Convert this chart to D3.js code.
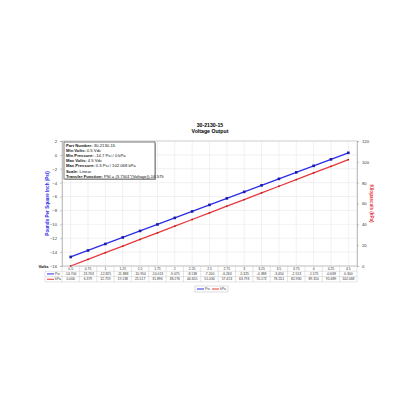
<!DOCTYPE html>
<html>
<head>
<meta charset="utf-8">
<script src="https://cdn.jsdelivr.net/npm/d3@7"></script>
<style>
  body { margin: 0; background: #fff; }
  text { font-family: "Liberation Sans", Arial, sans-serif; }
</style>
</head>
<body>
<svg id="main"></svg>
<script>
// voltage steps (x categories)
let volts = ["0.5", "0.75", "1", "1.25", "1.5", "1.75", "2", "2.25", "2.5", "2.75", "3", "3.25", "3.5", "3.75", "4", "4.25", "4.5"];
// pressure in psi
let psi = [-14.700, -13.763, -12.825, -11.888, -10.950, -10.013, -9.075, -8.138, -7.200, -6.263, -5.325, -4.388, -3.450, -2.513, -1.575, -0.638, 0.300];
// pressure in kPa
let kpa = [0.000, 6.379, 12.759, 19.138, 25.517, 31.896, 38.276, 44.655, 51.034, 57.413, 63.793, 70.172, 76.551, 82.930, 89.310, 95.689, 102.068];
let psiTicks = [2, 0, -2, -4, -6, -8, -10, -12, -14, -16];
let kpaTicks = [0, 20, 40, 60, 80, 100, 120];
let infoLines = [
	["Part Number:", " 30-2130-15"],
	["Min Volts:", " 0.5 Vdc"],
	["Min Pressure:", " -14.7 Psi / 0 kPa"],
	["Max Volts:", " 4.5 Vdc"],
	["Max Pressure:", " 0.3 Psi / 102.068 kPa"],
	["Scale:", " Linear"],
	["Transfer Function:", " PSI = (3.7501*(Voltage))-16.575"]
];

const blue = "#2b2bea", red = "#e8383d";
const pLeft = 62, pRight = 357, pTop = 141, pBottom = 266;

var svg = d3.select("#main").attr("width", 416).attr("height", 416);

// title
svg.append("text").attr("x", 210).attr("y", 127).attr("text-anchor", "middle")
	.attr("font-size", 5.2).attr("font-weight", "bold").text("30-2130-15");
svg.append("text").attr("x", 210).attr("y", 133).attr("text-anchor", "middle")
	.attr("font-size", 5.2).attr("font-weight", "bold").text("Voltage Output");

var x = d3.scaleBand().domain(volts).range([pLeft, pRight]);
var yP = d3.scaleLinear().domain([-16, 2]).range([pBottom, pTop]);
var yK = d3.scaleLinear().domain([0, 120]).range([pBottom, pTop]);

// gridlines
var grid = svg.append("g").attr("stroke", "#e2e2e2").attr("stroke-width", 0.5);
psiTicks.forEach(t => grid.append("line").attr("x1", pLeft).attr("x2", pRight)
	.attr("y1", yP(t)).attr("y2", yP(t)));
volts.forEach(v => grid.append("line").attr("x1", x(v) + x.bandwidth() / 2).attr("x2", x(v) + x.bandwidth() / 2)
	.attr("y1", pTop).attr("y2", pBottom));
svg.append("rect").attr("x", pLeft).attr("y", pTop).attr("width", pRight - pLeft).attr("height", pBottom - pTop)
	.attr("fill", "none").attr("stroke", "#b0b0b0").attr("stroke-width", 0.5);

// axes
var axL = svg.append("g").attr("transform", "translate(" + pLeft + ",0)")
	.call(d3.axisLeft(yP).tickValues(psiTicks).tickSize(2).tickPadding(3));
var axR = svg.append("g").attr("transform", "translate(" + pRight + ",0)")
	.call(d3.axisRight(yK).tickValues(kpaTicks).tickSize(2).tickPadding(3));
[axL, axR].forEach(a => {
	a.selectAll("text").attr("font-size", 4.2).attr("fill", "#333");
	a.selectAll("line").attr("stroke", "#999").attr("stroke-width", 0.5);
	a.select(".domain").attr("stroke", "#999").attr("stroke-width", 0.5);
});

// axis titles
svg.append("text").attr("transform", "translate(49," + (pTop + pBottom) / 2 + ") rotate(-90)")
	.attr("text-anchor", "middle").attr("font-size", 4.6).attr("font-weight", "bold")
	.attr("fill", blue).text("Pounds Per Square Inch (Psi)");
svg.append("text").attr("transform", "translate(370," + (pTop + pBottom) / 2 + ") rotate(90)")
	.attr("text-anchor", "middle").attr("font-size", 4.6).attr("font-weight", "bold")
	.attr("fill", red).text("Kilopascals (kPa)");

// lines
var cx = v => x(v) + x.bandwidth() / 2;
var lineP = d3.line().x((d, i) => cx(volts[i])).y(d => yP(d));
var lineK = d3.line().x((d, i) => cx(volts[i])).y(d => yK(d));
svg.append("path").datum(psi).attr("d", lineP).attr("fill", "none").attr("stroke", blue).attr("stroke-width", 1.3);
svg.append("path").datum(kpa).attr("d", lineK).attr("fill", "none").attr("stroke", red).attr("stroke-width", 1.3);
svg.selectAll("rect.mp").data(psi).enter().append("rect").attr("class", "mp")
	.attr("x", (d, i) => cx(volts[i]) - 1.3).attr("y", d => yP(d) - 1.3)
	.attr("width", 2.6).attr("height", 2.6).attr("fill", "#1a1aa8");
svg.selectAll("circle.mk").data(kpa).enter().append("circle").attr("class", "mk")
	.attr("cx", (d, i) => cx(volts[i])).attr("cy", d => yK(d)).attr("r", 0.9).attr("fill", "#b02020");

// info box
var box = svg.append("g");
box.append("rect").attr("x", 65).attr("y", 143).attr("width", 91).attr("height", 37)
	.attr("fill", "#bbb");
box.append("rect").attr("x", 64).attr("y", 142).attr("width", 91).attr("height", 37)
	.attr("fill", "#fff").attr("stroke", "#444").attr("stroke-width", 0.7);
infoLines.forEach((l, i) => {
	var t = box.append("text").attr("x", 66).attr("y", 147 + i * 5.1).attr("font-size", 4.2).attr("fill", "#111");
	t.append("tspan").attr("font-weight", "bold").text(l[0]);
	t.append("tspan").text(l[1]);
});

// data table
var rowH = 5.3, t0 = pBottom;
var tbl = svg.append("g").attr("stroke", "#bdbdbd").attr("stroke-width", 0.4);
for (let r = 0; r <= 3; r++) {
	tbl.append("line").attr("x1", r == 0 ? pLeft : 45).attr("x2", pRight)
		.attr("y1", t0 + r * rowH).attr("y2", t0 + r * rowH);
}
tbl.append("line").attr("x1", 45).attr("x2", 45).attr("y1", t0 + rowH).attr("y2", t0 + 3 * rowH);
volts.forEach(v => tbl.append("line").attr("x1", x(v)).attr("x2", x(v)).attr("y1", t0).attr("y2", t0 + 3 * rowH));
tbl.append("line").attr("x1", pRight).attr("x2", pRight).attr("y1", t0).attr("y2", t0 + 3 * rowH);

svg.append("text").attr("x", 48.5).attr("y", t0 + 2.2).attr("text-anchor", "end")
	.attr("font-size", 4.2).attr("font-weight", "bold").text("Volts");
var rows = [volts, psi.map(d => d.toFixed(3)), kpa.map(d => d.toFixed(3))];
rows.forEach((row, r) => {
	svg.selectAll("text.r" + r).data(row).enter().append("text").attr("class", "r" + r)
		.attr("x", (d, i) => cx(volts[i])).attr("y", t0 + r * rowH + 3.8)
		.attr("text-anchor", "middle").attr("font-size", 3.4).attr("fill", "#333").text(d => d);
});
[[blue, "Psi"], [red, "kPa"]].forEach((s, i) => {
	var yy = t0 + (i + 1) * rowH + rowH / 2;
	svg.append("line").attr("x1", 47).attr("x2", 54).attr("y1", yy).attr("y2", yy).attr("stroke", s[0]).attr("stroke-width", 1);
	svg.append("text").attr("x", 55).attr("y", yy + 1.2).attr("font-size", 3.4).attr("fill", "#333").text(s[1]);
});

// legend
var lg = svg.append("g");
lg.append("rect").attr("x", 195).attr("y", 286).attr("width", 33).attr("height", 6)
	.attr("fill", "#fff").attr("stroke", "#aaa").attr("stroke-width", 0.4);
[[blue, "Psi", 197], [red, "kPa", 212]].forEach(s => {
	lg.append("line").attr("x1", s[2]).attr("x2", s[2] + 7).attr("y1", 289).attr("y2", 289).attr("stroke", s[0]).attr("stroke-width", 1);
	lg.append("text").attr("x", s[2] + 8).attr("y", 290.3).attr("font-size", 3.4).attr("fill", "#333").text(s[1]);
});
</script>
</body>
</html>
